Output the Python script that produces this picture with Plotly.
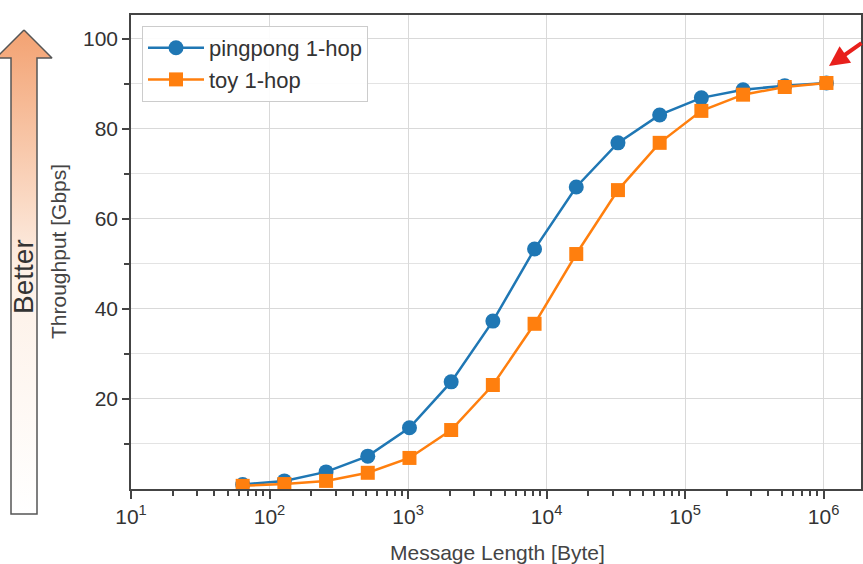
import plotly.graph_objects as go

W, H = 863, 564

msg_len = [64, 128, 256, 512, 1024, 2048, 4096, 8192, 16384, 32768,
           65536, 131072, 262144, 524288, 1048576]
pingpong = [1.0, 1.8, 3.8, 7.3, 13.6, 23.8, 37.3, 53.3, 67.1, 76.9,
            83.1, 86.9, 88.7, 89.6, 90.2]
toy = [0.7, 1.1, 1.8, 3.6, 6.9, 13.1, 23.1, 36.7, 52.2, 66.4,
       76.9, 84.0, 87.6, 89.3, 90.2]

x_tickvals = [10, 100, 1000, 10000, 100000, 1000000]
x_ticktext = ["10<sup>1</sup>", "10<sup>2</sup>", "10<sup>3</sup>",
              "10<sup>4</sup>", "10<sup>5</sup>", "10<sup>6</sup>"]
y_tickvals = [20, 40, 60, 80, 100]
y_minorvals = [10, 30, 50, 70, 90]

BLUE = "#1f77b4"
ORANGE = "#ff7f0e"
FONT = "Liberation Sans, Arial, sans-serif"

# plot area in pixels
L, R, T, B = 131, 861, 15, 489
AUXW = 125

fig = go.Figure()

fig.add_trace(go.Scatter(
    x=msg_len, y=pingpong, name="pingpong 1-hop", mode="lines+markers",
    line=dict(color=BLUE, width=2.5), marker=dict(symbol="circle", size=15, color=BLUE),
))
fig.add_trace(go.Scatter(
    x=msg_len, y=toy, name="toy 1-hop", mode="lines+markers",
    line=dict(color=ORANGE, width=2.5), marker=dict(symbol="square", size=14, color=ORANGE),
))

# "Better" arrow drawn in pixel coordinates on an auxiliary axis pair
ax_x = [24, 52, 37, 37, 11, 11, -4, 24]
ax_y = [30, 58, 58, 514, 514, 58, 58, 30]
fig.add_trace(go.Scatter(
    x=ax_x, y=ax_y, xaxis="x2", yaxis="y2", mode="lines", fill="toself",
    line=dict(color="#555555", width=1.5),
    fillgradient=dict(type="vertical", start=514, stop=30,
                      colorscale=[[0, "#ffffff"], [0.5, "#fdf0e6"], [1, "#f3a272"]]),
    showlegend=False, hoverinfo="skip", cliponaxis=False,
))

minor_x = [m * 10 ** e for e in range(1, 7) for m in range(2, 10)]

fig.update_layout(
    template="none",
    width=W, height=H,
    margin=dict(l=0, r=0, t=0, b=0, pad=0, autoexpand=False),
    paper_bgcolor="white", plot_bgcolor="white",
    font=dict(family=FONT, color="#333333"),
    showlegend=True,
    legend=dict(x=142 / W, y=1 - 26 / H, xanchor="left", yanchor="top",
                bgcolor="rgba(255,255,255,0.9)", bordercolor="#cccccc", borderwidth=1,
                font=dict(size=22, color="#333333"), tracegroupgap=0, itemwidth=56),
    xaxis=dict(
        type="log", domain=[L / W, R / W], range=[1, 6.27], automargin=False,
        tickvals=x_tickvals, ticktext=x_ticktext,
        ticks="outside", ticklen=8, tickcolor="#444444", tickwidth=1.5,
        tickfont=dict(size=21, color="#333333"),
        showgrid=True, gridcolor="#d9d9d9", gridwidth=1,
        showline=True, linecolor="#444444", linewidth=1.5, mirror=True,
        minor=dict(tickvals=minor_x, ticks="outside", ticklen=5,
                   tickcolor="#444444", showgrid=False),
        zeroline=False, anchor="y",
    ),
    yaxis=dict(
        domain=[1 - B / H, 1 - T / H], range=[0, 105.3], automargin=False,
        tickvals=y_tickvals, ticks="outside", ticklen=7, tickcolor="#444444", tickwidth=1.5,
        tickfont=dict(size=21, color="#333333"),
        showgrid=True, gridcolor="#d9d9d9", gridwidth=1,
        showline=True, linecolor="#444444", linewidth=1.5, mirror=True,
        minor=dict(tickvals=y_minorvals, ticks="outside", ticklen=5,
                   tickcolor="#444444", showgrid=True, gridcolor="#e3e3e3"),
        zeroline=False, anchor="x",
    ),
    xaxis2=dict(domain=[0, AUXW / W], range=[0, AUXW], visible=False, anchor="y2",
                fixedrange=True, automargin=False),
    yaxis2=dict(domain=[0, 1], range=[H, 0], visible=False, anchor="x2",
                fixedrange=True, automargin=False),
    annotations=[
        dict(text="Throughput [Gbps]", x=58 / W, y=1 - 252 / H, xref="paper", yref="paper",
             xanchor="center", yanchor="middle",
             textangle=-90, showarrow=False, font=dict(size=21, color="#444444")),
        dict(text="Better", x=23 / W, y=1 - 277 / H, xref="paper", yref="paper",
             xanchor="center", yanchor="middle",
             textangle=-90, showarrow=False, font=dict(size=28, color="#333333")),
        dict(text="Message Length [Byte]", x=497 / W, y=1 - 552 / H, xref="paper", yref="paper",
             xanchor="center", yanchor="middle",
             showarrow=False, font=dict(size=21, color="#444444")),
        dict(text="", x=829 / W, y=1 - 66 / H, xref="paper", yref="paper",
             showarrow=True, ax=38, ay=-24, arrowcolor="#e8201c", arrowwidth=4,
             arrowhead=2, arrowsize=1),
    ],
)

fig.write_html("out.html", config={"displayModeBar": False},
               post_script="document.body.style.margin='0px';")
